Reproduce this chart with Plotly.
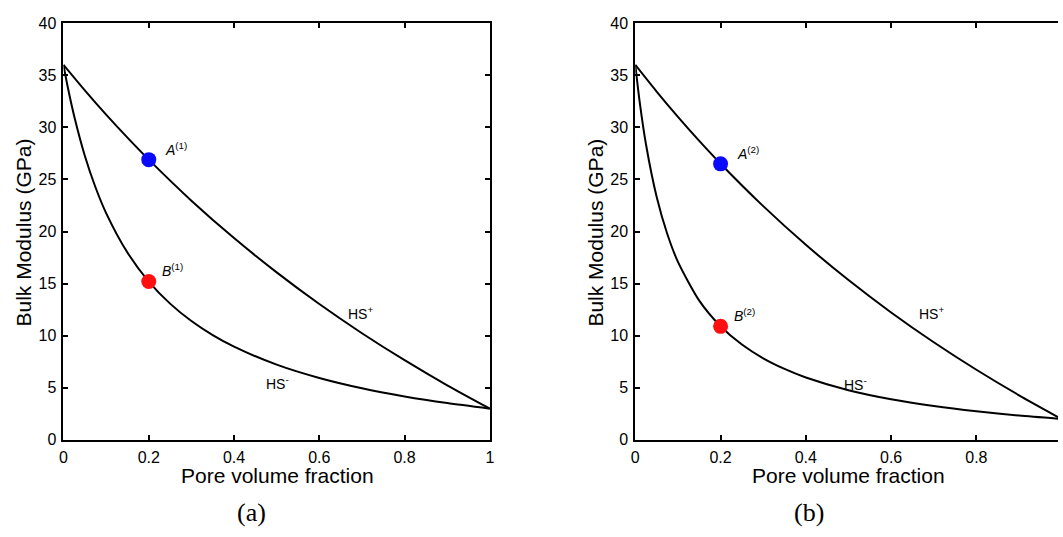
import plotly.graph_objects as go

# ---------------- data ----------------
phi_upper = [0, 0.05, 0.1, 0.15, 0.2, 0.3, 0.4, 0.5, 0.6, 0.7, 0.8, 0.9, 1.0]
phi_lower = [0, 0.01, 0.025, 0.05, 0.075, 0.1, 0.15, 0.2, 0.25, 0.3, 0.35, 0.4, 0.5, 0.6, 0.7, 0.8, 0.9, 1.0]

hs_plus_a = [36.0, 33.55, 31.22, 29.01, 26.90, 22.96, 19.37, 16.08, 13.04, 10.24, 7.65, 5.24, 3.0]
hs_minus_a = [36.0, 33.87, 31.09, 27.28, 24.25, 21.77, 17.98, 15.20, 13.08, 11.41, 10.06, 8.95, 7.22, 5.94, 4.95, 4.17, 3.53, 3.0]

hs_plus_b = [36.0, 33.44, 31.01, 28.70, 26.51, 22.44, 18.73, 15.34, 12.23, 9.37, 6.73, 4.28, 2.0]
hs_minus_b = [36.0, 32.52, 28.38, 23.34, 19.76, 17.09, 13.37, 10.91, 9.15, 7.83, 6.81, 5.99, 4.77, 3.90, 3.25, 2.74, 2.33, 2.0]

point_phi = 0.2
point_A = [26.9, 26.5]
point_B = [15.2, 10.9]
point_A_labels = ["<i>A</i><sup>(1)</sup>", "<i>A</i><sup>(2)</sup>"]
point_B_labels = ["<i>B</i><sup>(1)</sup>", "<i>B</i><sup>(2)</sup>"]
panel_labels = ["(a)", "(b)"]

x_ticks = [0, 0.2, 0.4, 0.6, 0.8, 1]
y_ticks = [0, 5, 10, 15, 20, 25, 30, 35, 40]

W, H = 1063, 537
FONT = "Liberation Sans, Arial, sans-serif"

fig = go.Figure()

line_style = dict(color="black", width=2, shape="spline", smoothing=0.7)

panels = [
    dict(xa="x", ya="y", up=hs_plus_a, lo=hs_minus_a, k=0),
    dict(xa="x2", ya="y2", up=hs_plus_b, lo=hs_minus_b, k=1),
]
for p in panels:
    fig.add_trace(go.Scatter(x=phi_upper, y=p["up"], mode="lines", line=line_style,
                             xaxis=p["xa"], yaxis=p["ya"], showlegend=False, hoverinfo="skip"))
    fig.add_trace(go.Scatter(x=phi_lower, y=p["lo"], mode="lines", line=line_style,
                             xaxis=p["xa"], yaxis=p["ya"], showlegend=False, hoverinfo="skip"))
    k = p["k"]
    fig.add_trace(go.Scatter(x=[point_phi], y=[point_A[k]], mode="markers",
                             marker=dict(color="#0a0aff", size=15), xaxis=p["xa"], yaxis=p["ya"],
                             showlegend=False))
    fig.add_trace(go.Scatter(x=[point_phi], y=[point_B[k]], mode="markers",
                             marker=dict(color="#ff1010", size=15), xaxis=p["xa"], yaxis=p["ya"],
                             showlegend=False))

# geometry
x1_dom = [60 / W, 490 / W]
x2_dom = [636.7 / W, 1.0]
y_dom = [1 - 446 / H, 1 - 15.7 / H]
x2_max = (W - 636.7) / 430.0

axis_common = dict(
    showline=True, linecolor="black", linewidth=2,
    ticks="inside", ticklen=5, tickwidth=1.5, tickcolor="black",
    showgrid=False, zeroline=False,
    tickfont=dict(family=FONT, size=16, color="black"),
)

fig.update_layout(
    width=W, height=H,
    margin=dict(l=0, r=0, t=0, b=0),
    paper_bgcolor="white", plot_bgcolor="white",
    xaxis=dict(domain=x1_dom, range=[0, 1], tickvals=x_ticks, anchor="y", mirror="ticks",
               ticklabelstandoff=2, **axis_common),
    yaxis=dict(domain=y_dom, range=[0, 40], tickvals=y_ticks, anchor="x", mirror="ticks",
               ticklabelstandoff=2, **axis_common),
    xaxis2=dict(domain=x2_dom, range=[0, x2_max], tickvals=x_ticks, anchor="y2", mirror="ticks",
                ticklabelstandoff=2, **axis_common),
    yaxis2=dict(domain=y_dom, range=[0, 40], tickvals=y_ticks, anchor="x2", mirror=False,
                ticklabelstandoff=2, **axis_common),
)

ann = []
lab_font = dict(family=FONT, size=14, color="black")
for k, (xr, yr) in enumerate([("x", "y"), ("x2", "y2")]):
    ann.append(dict(x=0.233, y=point_A[k] + 1.0, xref=xr, yref=yr, text=point_A_labels[k],
                    showarrow=False, xanchor="left", yanchor="middle", font=lab_font))
    ann.append(dict(x=0.226, y=point_B[k] + 1.1, xref=xr, yref=yr, text=point_B_labels[k],
                    showarrow=False, xanchor="left", yanchor="middle", font=lab_font))
# HS labels
ann.append(dict(x=0.663, y=12.2, xref="x", yref="y", text="HS<sup>+</sup>", showarrow=False,
                xanchor="left", yanchor="middle", font=lab_font))
ann.append(dict(x=0.47, y=5.5, xref="x", yref="y", text="HS<sup>-</sup>", showarrow=False,
                xanchor="left", yanchor="middle", font=lab_font))
ann.append(dict(x=0.661, y=12.2, xref="x2", yref="y2", text="HS<sup>+</sup>", showarrow=False,
                xanchor="left", yanchor="middle", font=lab_font))
ann.append(dict(x=0.484, y=5.4, xref="x2", yref="y2", text="HS<sup>-</sup>", showarrow=False,
                xanchor="left", yanchor="middle", font=lab_font))

title_font = dict(family=FONT, size=21, color="black")
for cx in [276, 852]:
    ann.append(dict(x=cx / W, y=1 - 483 / H, xref="paper", yref="paper", text="Pore volume fraction",
                    showarrow=False, xanchor="center", yanchor="middle", font=title_font))
for cx in [20, 597]:
    ann.append(dict(x=cx / W, y=1 - 232 / H, xref="paper", yref="paper", text="Bulk Modulus (GPa)",
                    showarrow=False, xanchor="center", yanchor="middle", textangle=-90, font=title_font))
for cx, t in zip([250, 812], panel_labels):
    ann.append(dict(x=cx / W, y=1 - 521 / H, xref="paper", yref="paper", text=t,
                    showarrow=False, xanchor="center", yanchor="middle",
                    font=dict(family="Liberation Serif, Times New Roman, serif", size=26, color="black")))

fig.update_layout(annotations=ann)

fig.write_html("out.html")
